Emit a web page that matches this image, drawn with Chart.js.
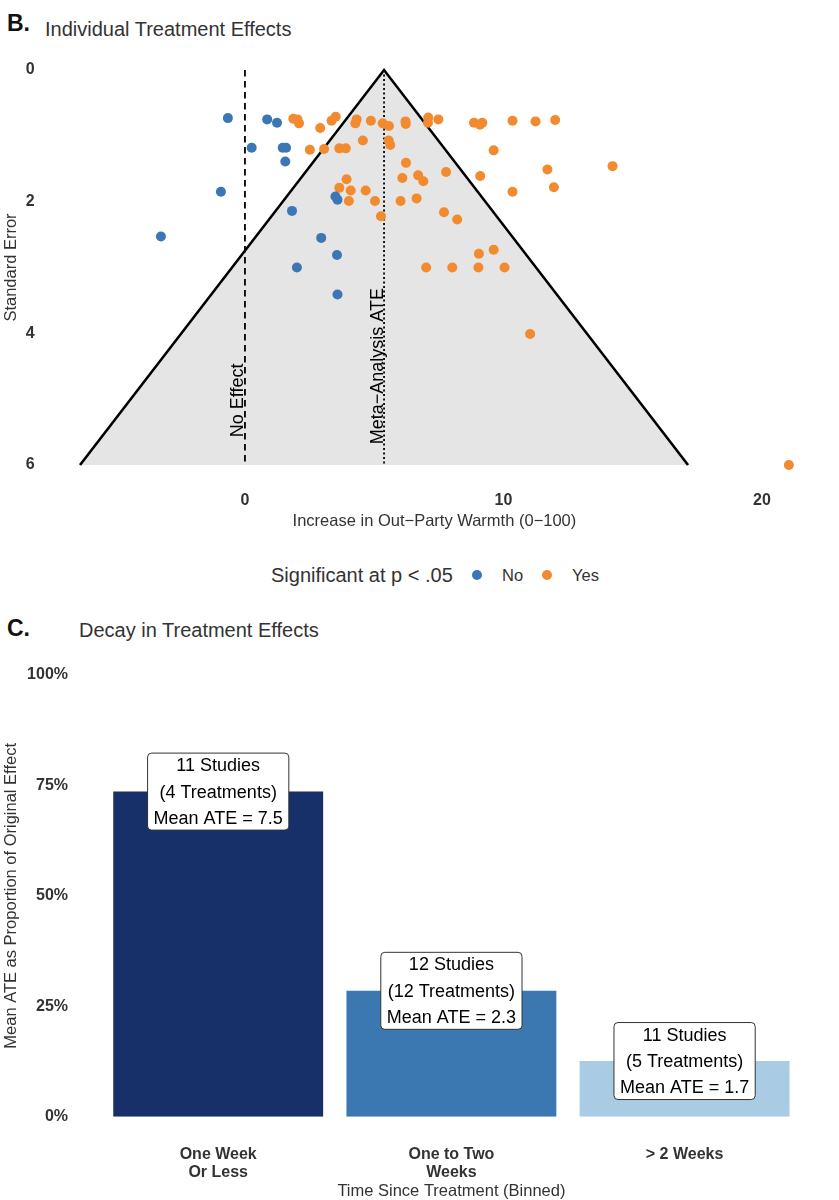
<!DOCTYPE html>
<html>
<head>
<meta charset="utf-8">
<script src="https://cdn.jsdelivr.net/npm/chart.js@4.4.1/dist/chart.umd.min.js"></script>
<style>
  body { margin: 0; background: #fff; font-family: "Liberation Sans", Arial, sans-serif; }
  #page { position: relative; width: 839px; height: 1200px; overflow: hidden; background: #fff; }
  canvas { position: absolute; left: 0; }
  .txt { position: absolute; white-space: nowrap; color: #333; }
  .dot { position: absolute; width: 10px; height: 10px; border-radius: 50%; }
</style>
</head>
<body>
<div id="page">
  <div class="txt" style="left:7px;top:12px;font-size:23px;line-height:23px;font-weight:bold;color:#111">B.</div>
  <div class="txt" style="left:45px;top:19px;font-size:20px;line-height:20px">Individual Treatment Effects</div>
  <canvas id="funnel" width="839" height="540" style="top:0"></canvas>

  <div class="txt" style="left:271px;top:565px;font-size:20px;line-height:20px">Significant at p &lt; .05</div>
  <div class="dot" style="left:472px;top:570px;background:#3a77b4"></div>
  <div class="txt" style="left:502px;top:567px;font-size:16.5px;line-height:16.5px">No</div>
  <div class="dot" style="left:542px;top:570px;background:#f28a30"></div>
  <div class="txt" style="left:572px;top:567px;font-size:16.5px;line-height:16.5px">Yes</div>

  <div class="txt" style="left:7px;top:617px;font-size:23px;line-height:23px;font-weight:bold;color:#111">C.</div>
  <div class="txt" style="left:79px;top:620px;font-size:20px;line-height:20px">Decay in Treatment Effects</div>
  <canvas id="decay" width="839" height="600" style="top:600px"></canvas>
</div>

<script>
const FONT = '"Liberation Sans", Arial, sans-serif';

// Panel B: funnel plot data (effect, standard error)
const ate = 5.38;
const noEffect = [-0.66, 0.86, 1.24, 0.26, 1.46, 1.59, 1.56, -0.93, 3.5, 3.58, 1.82, -3.25, 2.95, 3.56, 2.01, 3.58];
const noSE     = [0.73, 0.75, 0.80, 1.18, 1.18, 1.18, 1.39, 1.85, 1.92, 1.97, 2.14, 2.53, 2.55, 2.81, 3.0, 3.41];
const yesEffect = [1.87, 2.03, 2.09, 2.91, 3.35, 3.51, 4.27, 4.32, 4.87, 5.33, 5.57, 6.21, 6.22, 7.09, 7.08, 7.48,
                   8.86, 9.09, 9.18, 10.35, 11.24, 12.0,
                   2.51, 3.06, 3.65, 3.9, 4.56, 5.56, 5.62, 9.62,
                   6.23, 14.22, 11.70, 7.78, 9.10, 3.93, 6.09, 6.70, 6.90, 3.65, 4.09, 4.67, 11.95, 10.35,
                   4.02, 5.03, 6.02, 6.64, 5.26, 7.70, 8.21,
                   9.05, 9.62, 7.01, 8.02, 9.03, 10.04, 11.03, 21.04];
const yesSE     = [0.74, 0.75, 0.81, 0.88, 0.77, 0.71, 0.81, 0.75, 0.77, 0.81, 0.85, 0.78, 0.82, 0.72, 0.80, 0.75,
                   0.80, 0.83, 0.80, 0.77, 0.78, 0.76,
                   1.21, 1.20, 1.19, 1.19, 1.07, 1.07, 1.14, 1.22,
                   1.41, 1.46, 1.51, 1.55, 1.61, 1.66, 1.64, 1.60, 1.69, 1.79, 1.83, 1.83, 1.78, 1.85,
                   1.99, 1.99, 1.99, 1.95, 2.22, 2.16, 2.27,
                   2.79, 2.73, 3.0, 3.0, 3.0, 3.0, 4.01, 6.0];
const funnelX  = [-6.38, 5.38, 17.14];
const funnelSE = [6, 0, 6];
const xTicks  = [0, 10, 20];
const seTicks = [0, 2, 4, 6];
const refX      = [0, ate];
const refLabels = ['No Effect', 'Meta\u2212Analysis ATE'];
const refLabelSE = [5.02, 4.5];

// Panel C: decay bars
const bins = [['One Week', 'Or Less'], ['One to Two', 'Weeks'], '> 2 Weeks'];
const propEffect = [0.736, 0.285, 0.126];
const studies    = [11, 12, 11];
const treatments = [4, 12, 5];
const meanATE    = [7.5, 2.3, 1.7];
const barColors  = ['#17306a', '#3b77b1', '#a9cbe3'];
const pctTicks   = [0, 0.25, 0.5, 0.75, 1];

const zip = (xs, ys) => xs.map((v, i) => ({x: v, y: ys[i]}));

// Rotated labels next to the reference lines
const refLabelPlugin = {
    id: 'refLabelPlugin',
    afterDatasetsDraw(chart) {
        const {ctx, scales: {x, y}} = chart;
        ctx.save();
        ctx.font = '18px ' + FONT;
        ctx.fillStyle = '#000';
        ctx.textAlign = 'center';
        ctx.textBaseline = 'alphabetic';
        refLabels.forEach((txt, i) => {
            ctx.save();
            ctx.translate(x.getPixelForValue(refX[i]) - 1.5, y.getPixelForValue(refLabelSE[i]));
            ctx.rotate(-Math.PI / 2);
            ctx.fillText(txt, 0, 0);
            ctx.restore();
        });
        ctx.restore();
    }
};

new Chart(document.getElementById('funnel'), {
    type: 'scatter',
    data: {
        datasets: [
            { data: zip(noEffect, noSE), backgroundColor: '#3a77b4', borderWidth: 0, pointRadius: 5, order: 1 },
            { data: zip(yesEffect, yesSE), backgroundColor: '#f28a30', borderWidth: 0, pointRadius: 5, order: 1 },
            { type: 'line', data: zip([refX[0], refX[0]], [0, 6]), borderColor: '#000', borderWidth: 1.8,
              borderDash: [6.5, 4.5], pointRadius: 0, fill: false, order: 2 },
            { type: 'line', data: zip([refX[1], refX[1]], [0, 6]), borderColor: '#000', borderWidth: 1.8,
              borderDash: [2, 2.5], pointRadius: 0, fill: false, order: 2 },
            { type: 'line', data: zip(funnelX, funnelSE), borderColor: '#000', borderWidth: 2.6,
              backgroundColor: '#e5e5e5', fill: {value: 6}, pointRadius: 0, tension: 0,
              borderJoinStyle: 'miter', order: 3 }
        ]
    },
    options: {
        responsive: false,
        animation: false,
        layout: { padding: { left: 0, right: 14.7, top: 50.3, bottom: 0 } },
        plugins: { legend: { display: false }, tooltip: { enabled: false } },
        scales: {
            x: {
                type: 'linear', min: -7.75, max: 22.41,
                afterBuildTicks: s => { s.ticks = xTicks.map(v => ({value: v})); },
                afterFit: s => { s.height = 55.3; },
                grid: { display: false, drawTicks: false },
                border: { display: false },
                ticks: { padding: 6.7, color: '#333', font: { family: FONT, size: 16, weight: 'bold' } },
                title: { display: true, text: 'Increase in Out\u2212Party Warmth (0\u2212100)', color: '#333',
                         padding: { top: 0, bottom: 9.1 }, font: { family: FONT, size: 16.5 } }
            },
            y: {
                type: 'linear', reverse: true, min: -0.3, max: 6.3,
                afterBuildTicks: s => { s.ticks = seTicks.map(v => ({value: v})); },
                afterFit: s => { s.width = 44.6; },
                grid: { display: false, drawTicks: false },
                border: { display: false },
                ticks: { padding: 10, color: '#333', font: { family: FONT, size: 16, weight: 'bold' } },
                title: { display: true, text: 'Standard Error', color: '#333',
                         padding: { top: 2, bottom: 0 }, font: { family: FONT, size: 16.5 } }
            }
        }
    },
    plugins: [refLabelPlugin]
});

// Labelled boxes at bar tops
const boxPlugin = {
    id: 'boxPlugin',
    afterDatasetsDraw(chart) {
        const {ctx} = chart;
        const meta = chart.getDatasetMeta(0);
        ctx.save();
        ctx.font = '18px ' + FONT;
        ctx.textAlign = 'center';
        ctx.textBaseline = 'middle';
        meta.data.forEach((bar, i) => {
            const lines = [studies[i] + ' Studies', '(' + treatments[i] + ' Treatments)', 'Mean ATE = ' + meanATE[i]];
            const w = Math.max(...lines.map(t => ctx.measureText(t).width)) + 12;
            const h = 77;
            const bx = bar.x - w / 2, by = bar.y - h / 2;
            ctx.beginPath();
            if (ctx.roundRect) ctx.roundRect(bx, by, w, h, 4); else ctx.rect(bx, by, w, h);
            ctx.fillStyle = '#fff';
            ctx.fill();
            ctx.lineWidth = 1;
            ctx.strokeStyle = '#333';
            ctx.stroke();
            ctx.fillStyle = '#000';
            lines.forEach((t, j) => ctx.fillText(t, bar.x, bar.y + (j - 1) * 26.3 + 1));
        });
        ctx.restore();
    }
};

new Chart(document.getElementById('decay'), {
    type: 'bar',
    data: {
        labels: bins,
        datasets: [{ data: propEffect, backgroundColor: barColors, borderWidth: 0,
                     barPercentage: 0.9, categoryPercentage: 1.0 }]
    },
    options: {
        responsive: false,
        animation: false,
        layout: { padding: { left: 0, right: 37.8, top: 75, bottom: 0 } },
        plugins: { legend: { display: false }, tooltip: { enabled: false } },
        scales: {
            x: {
                afterFit: s => { s.height = 83.3; },
                grid: { display: false, drawTicks: false },
                border: { display: false },
                ticks: { padding: 29.5, maxRotation: 0, autoSkip: false, color: '#333',
                         font: { family: FONT, size: 16, weight: 'bold', lineHeight: 1.1 } },
                title: { display: true, text: 'Time Since Treatment (Binned)', color: '#333',
                         padding: { top: 0, bottom: 0 }, font: { family: FONT, size: 16.5, lineHeight: 1 } }
            },
            y: {
                min: 0, max: 1,
                afterBuildTicks: s => { s.ticks = pctTicks.map(v => ({value: v})); },
                afterFit: s => { s.width = 101.6; },
                grid: { display: false, drawTicks: false },
                border: { display: false },
                ticks: { padding: 33.6, color: '#333', callback: v => Math.round(v * 100) + '%',
                         font: { family: FONT, size: 16, weight: 'bold' } },
                title: { display: true, text: 'Mean ATE as Proportion of Original Effect', color: '#333',
                         padding: { top: 2, bottom: 0 }, font: { family: FONT, size: 16.5 } }
            }
        }
    },
    plugins: [boxPlugin]
});
</script>
</body>
</html>
